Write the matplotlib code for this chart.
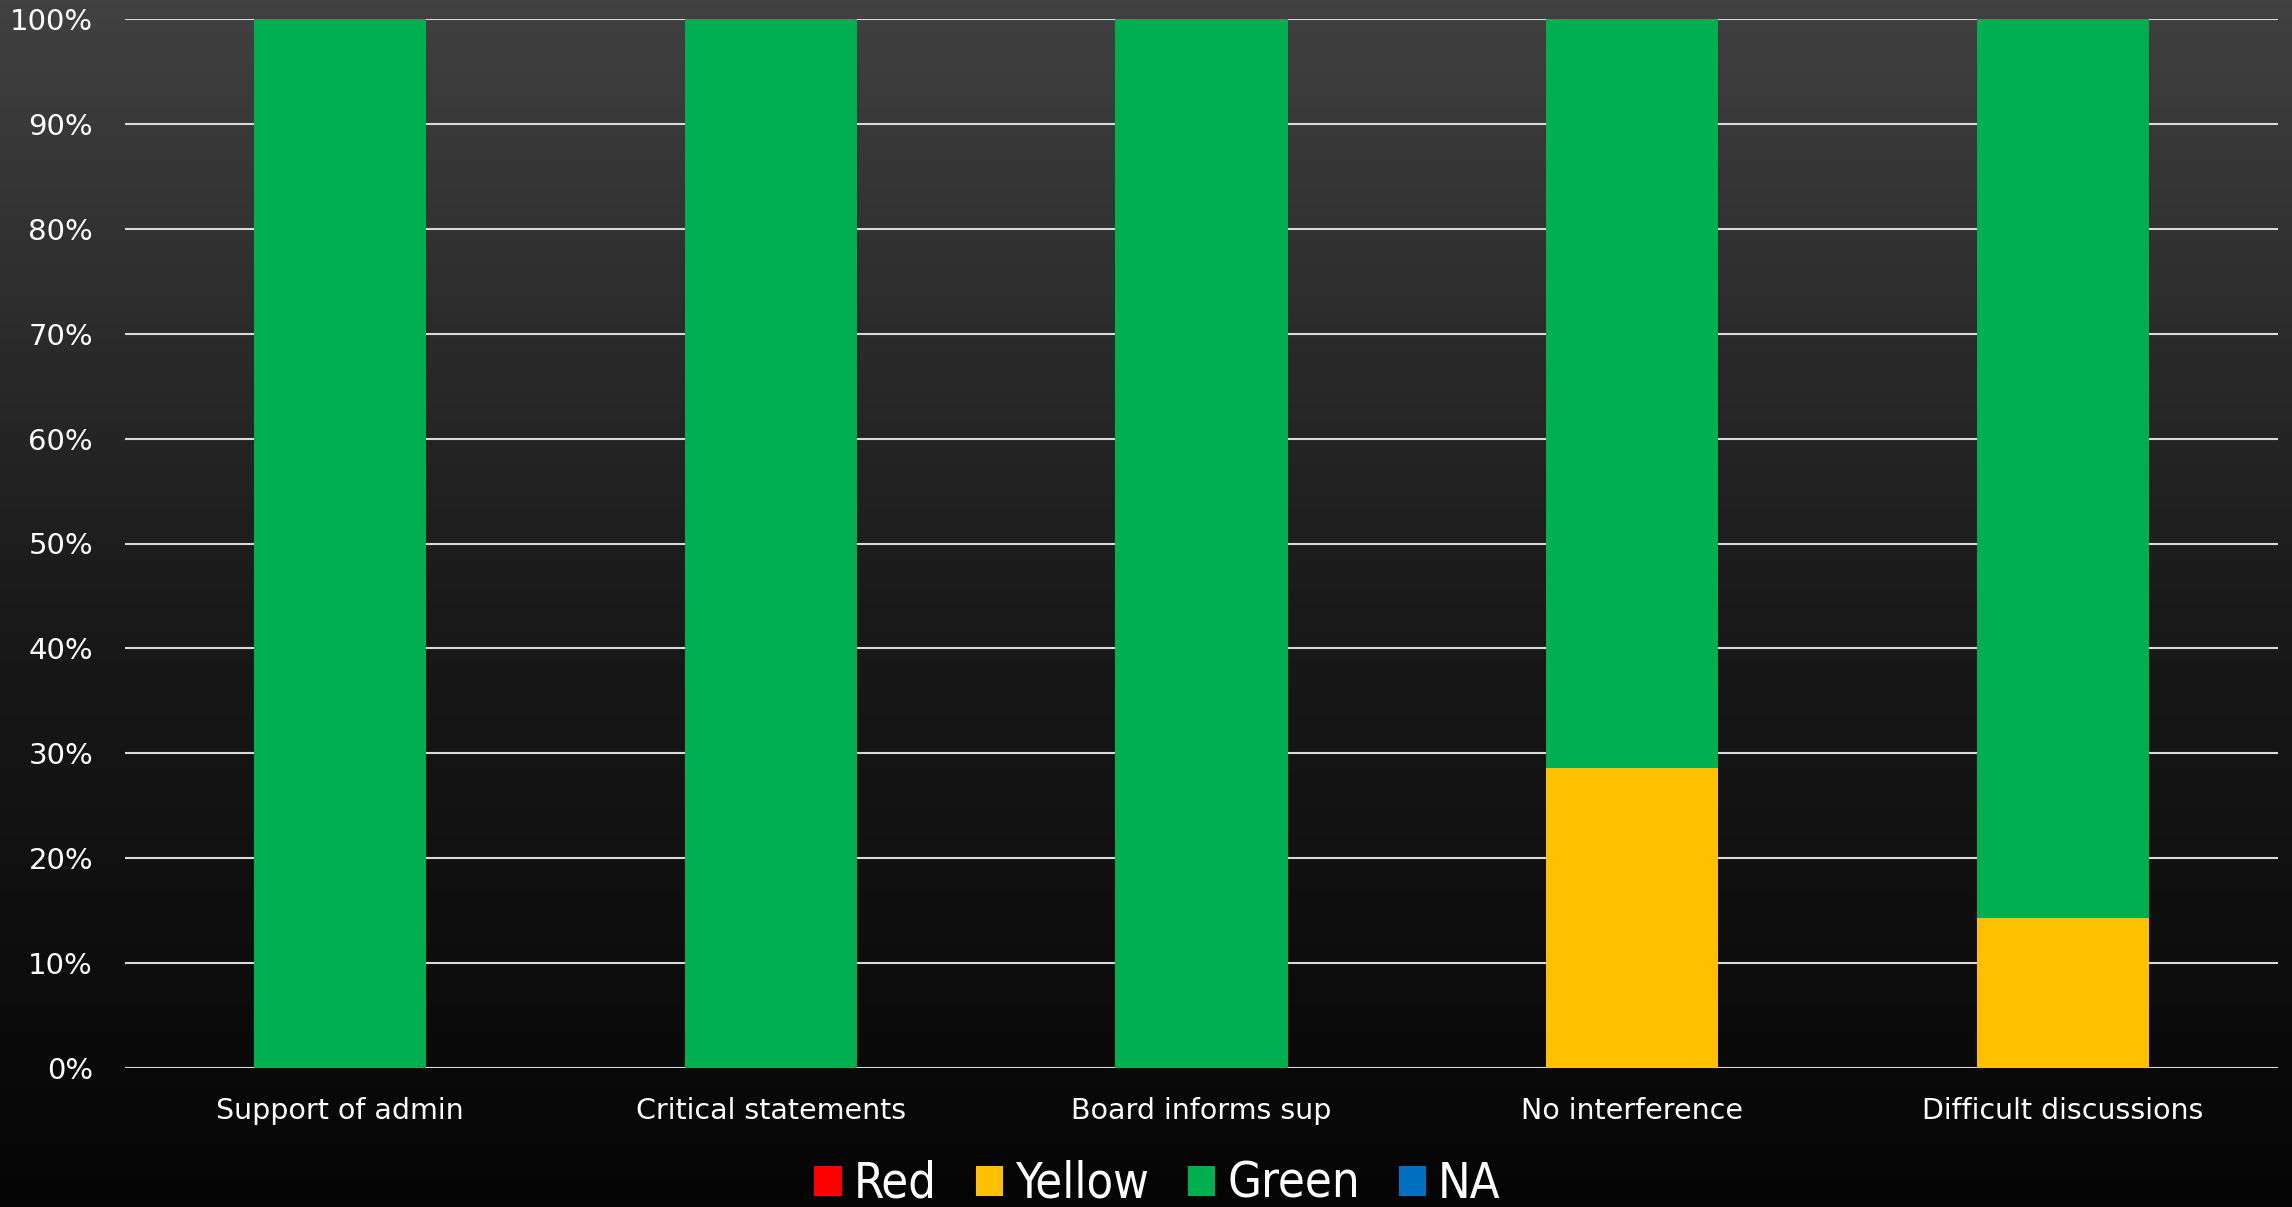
import numpy as np
import matplotlib
matplotlib.use("Agg")
import matplotlib.pyplot as plt
from matplotlib.colors import LinearSegmentedColormap
from matplotlib.patches import Patch

# Share of responses per rating, by question
categories = ["Support of admin", "Critical statements", "Board informs sup",
              "No interference", "Difficult discussions"]
red = [0.0, 0.0, 0.0, 0.0, 0.0]
yellow = [0.0, 0.0, 0.0, 2 / 7, 1 / 7]
green = [1.0, 1.0, 1.0, 5 / 7, 6 / 7]
na = [0.0, 0.0, 0.0, 0.0, 0.0]

series_names = ["Red", "Yellow", "Green", "NA"]
series_colors = ["#FF0000", "#FFC000", "#00B050", "#0070C0"]
yticks = np.arange(0, 1.01, 0.1)

plt.rcParams["font.family"] = ["DejaVu Sans"]

fig = plt.figure(figsize=(22.92, 12.07), dpi=100)

# dark vertical gradient behind everything
bg = fig.add_axes([0, 0, 1, 1], zorder=-10)
grad = np.linspace(0, 1, 256).reshape(-1, 1)
cmap = LinearSegmentedColormap.from_list("bg", ["#414141", "#1a1a1a", "#050505"])
bg.imshow(grad, aspect="auto", cmap=cmap, extent=[0, 1, 0, 1], origin="upper")
bg.axis("off")

W, H = 2292, 1207
left, right, top, bottom = 125, 2278, 19, 1068
ax = fig.add_axes([left / W, 1 - bottom / H, (right - left) / W, (bottom - top) / H])
ax.patch.set_alpha(0)

x = np.arange(len(categories))
width = 0.4
base = np.zeros(len(categories))
for name, vals, col in zip(series_names, [red, yellow, green, na], series_colors):
    ax.bar(x, vals, width, bottom=base, color=col, zorder=3, linewidth=0)
    base += np.array(vals)

ax.set_xlim(-0.5, len(categories) - 0.5)
ax.set_ylim(0, 1)
ax.set_yticks(yticks)
ax.set_yticklabels([f"{int(round(v * 100))}%" for v in yticks])
ax.set_xticks(x)
ax.set_xticklabels(categories)
ax.tick_params(axis="y", length=0, pad=23, labelsize=21, colors="white")
ax.tick_params(axis="x", length=0, pad=21, labelsize=20.5, colors="white")
ax.yaxis.grid(True, color="#d9d9d9", linewidth=1.5, zorder=1)
ax.set_axisbelow(True)
for s in ax.spines.values():
    s.set_visible(False)

handles = [Patch(facecolor=c, edgecolor="none", label=n)
           for n, c in zip(series_names, series_colors)]
leg = fig.legend(handles=handles, loc="center", bbox_to_anchor=(0.505, 1 - 1184 / H),
                 ncol=4, frameon=False, fontsize=35, handlelength=0.56,
                 handleheight=0.56, handletextpad=0.25, columnspacing=0.8,
                 borderpad=0)
for t in leg.get_texts():
    t.set_color("white")
    t.set_fontstretch("condensed")

fig.savefig("out.png", dpi=100)
